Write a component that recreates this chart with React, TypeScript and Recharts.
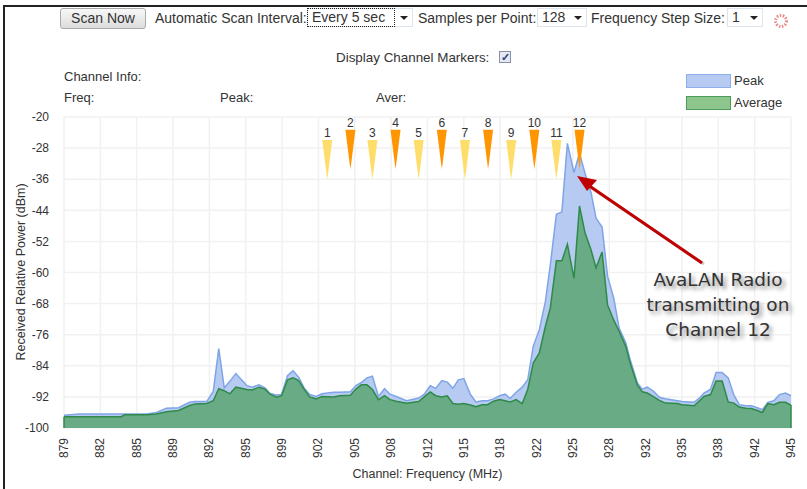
import {
  ComposedChart,
  Area,
  Scatter,
  XAxis,
  YAxis,
  CartesianGrid,
  ReferenceLine,
} from 'recharts';

const freqs = [
  879, 880.4, 884.2, 884.5, 886.5, 887.4, 888.3, 889.4, 890.4, 890.9, 891.95, 892.55, 893.05, 893.55,
  894.05, 894.6, 895.6, 896.1, 896.7, 897.25, 897.7, 898.3, 898.75, 899.3, 899.8, 900.3, 900.8, 901.3,
  901.9, 902.4, 903.5, 904, 905, 905.5, 906, 906.5, 907, 907.55, 908.1, 908.6, 909.15, 910.1, 911.2,
  911.7, 912.25, 912.75, 913.3, 913.8, 914.3, 914.8, 915.3, 915.9, 916.4, 916.95, 917.45, 918, 918.55,
  919.05, 919.5, 920.05, 920.6, 921.1, 921.6, 922.15, 922.7, 923.15, 923.7, 924.2, 924.7, 925.3, 925.8,
  926.3, 926.85, 927.3, 927.85, 928.35, 928.9, 929.4, 930, 930.4, 931.05, 931.5, 931.95, 932.55, 933.05,
  933.6, 934.7, 935.1, 936.2, 936.65, 937.1, 937.7, 938.2, 938.75, 939.3, 939.8, 940.3, 940.9, 941.4,
  941.95, 942.4, 942.9, 943.45, 943.95, 944.5, 945,
];

const peak = [
  -96.7, -96.4, -96.4, -96.4, -96.4, -96, -94.9, -94.8, -93.4, -93.2, -93.2, -90.6, -79.6, -89.7,
  -88, -86, -89.1, -89.5, -88.9, -89.7, -91.1, -91.5, -91.4, -86.5, -85.3, -86.9, -89.7, -91.4,
  -91.9, -91.2, -90.8, -90.8, -90.7, -89.1, -88.3, -87.1, -86.7, -91.9, -89.9, -91.3, -91.9, -93, -92.3,
  -91.3, -89.1, -89.8, -87.8, -88.2, -89.8, -87.6, -87.3, -91.4, -93.3, -93, -93, -92.5, -91.7,
  -91.3, -92.4, -90.8, -89.5, -87.6, -79, -74.7, -67.5, -58, -45, -44.4, -26.8, -34.3, -29.3,
  -34.5, -39.5, -46, -48.3, -61, -66.5, -74.3, -78.1, -82.4, -88.4, -90, -89.5, -90.6, -92.1,
  -92.5, -93, -93.2, -93.4, -92.4, -91, -90, -85.7, -85.7, -87.1, -91.4, -94, -94.3, -94.3,
  -94.8, -95.3, -93.4, -93, -91.4, -91, -91.7,
];

const average = [
  -97.1, -97.1, -97.1, -96.6, -96.6, -96.4, -95.8, -95.5, -94.2, -93.8, -93.7, -93, -89.9, -90.4,
  -91.2, -89.5, -90.1, -90.2, -89.5, -90, -91.3, -92.1, -91.7, -87.6, -87.1, -87.8, -90, -92,
  -92.5, -91.9, -92, -91.7, -91.6, -90, -88.9, -88.9, -90.1, -92.7, -91.7, -92.7, -93.1, -93.6, -93.2,
  -92, -90.7, -91.7, -92, -91.7, -93.7, -93.9, -93.7, -94.1, -94.5, -94, -94, -93.1, -92.7,
  -93, -93.3, -92.7, -93.7, -90.1, -83.3, -80.7, -73.9, -69.1, -57, -57, -52.7, -61.5, -42.9,
  -49.8, -54.2, -58.8, -54.7, -68.4, -72.2, -75.1, -79, -83.3, -88.9, -90.7, -91, -92, -92.9,
  -93.6, -93.7, -94, -94.3, -93.1, -91.9, -91.4, -87.9, -87.9, -93.3, -93.6, -94.6, -94.9, -95,
  -95.5, -96, -93.7, -94, -93.4, -93.4, -94.1,
];

const xTickFreqs = [
  879, 882.3, 885.6, 888.9, 892.2, 895.5, 898.8, 902.1, 905.4, 908.7, 912, 915.3, 918.6, 921.9, 925.2,
  928.5, 931.8, 935.1, 938.4, 941.7, 945,
];
const xTickLabels = [
  '879', '882', '885', '889', '892', '895', '899', '902', '905', '908', '912', '915', '918', '922', '925',
  '928', '932', '935', '938', '942', '945',
];
const yTicks = [-20, -28, -36, -44, -52, -60, -68, -76, -84, -92, -100];

const channelNames = ['1', '2', '3', '4', '5', '6', '7', '8', '9', '10', '11', '12'];
const channelFreqs = [902.9, 905, 907, 909.1, 911.2, 913.3, 915.4, 917.5, 919.6, 921.7, 923.7, 925.8];
const channelTips = [-36.2, -33.6, -36.2, -33.6, -36.2, -33.6, -36.2, -33.6, -36.2, -33.6, -36.2, -33.6];

const rows = freqs.map((freq, i) => ({ freq, peak: peak[i], average: average[i] }));
const channelRows = channelNames.map((name, i) => ({ name, freq: channelFreqs[i], tip: channelTips[i] }));

const FONT = 'Arial, "Liberation Sans", sans-serif';

// Rotated frequency labels under the plot
const XTick = ({ x, y, index }: any) => (
  <text
    x={x + 4}
    y={y + 2}
    transform={`rotate(-90 ${x + 4} ${y + 2})`}
    textAnchor="end"
    fontFamily={FONT}
    fontSize={12}
    fill="#333"
  >
    {xTickLabels[index]}
  </text>
);

// Channel pennant: the point sits on the tip, the flat side is on top
const ChannelMarker = ({ cx, cy, payload }: any) => {
  const even = Number(payload.name) % 2 === 0;
  return (
    <g>
      <polygon
        points={`${cx - 5},${cy - 40} ${cx + 5},${cy - 40} ${cx},${cy}`}
        fill={even ? 'url(#evenMarker)' : 'url(#oddMarker)'}
      />
      <text x={cx} y={cy - 43} textAnchor="middle" fontFamily={FONT} fontSize={12} fill="#333">
        {payload.name}
      </text>
    </g>
  );
};

const label = (x: number, y: number, text: string, size = 14) => (
  <div
    style={{
      position: 'absolute',
      left: x,
      top: y - 9,
      height: 18,
      lineHeight: '18px',
      fontSize: size,
      whiteSpace: 'nowrap',
    }}
  >
    {text}
  </div>
);

const selectBox = (x: number, w: number, text: string) => (
  <div
    style={{
      position: 'absolute',
      left: x,
      top: 8,
      width: w,
      height: 19,
      boxSizing: 'border-box',
      border: '1px solid #dce4ee',
      lineHeight: '17px',
      paddingLeft: 4,
      whiteSpace: 'nowrap',
    }}
  >
    {text}
    <span
      style={{
        position: 'absolute',
        right: 4,
        top: 7,
        width: 0,
        height: 0,
        borderLeft: '4px solid transparent',
        borderRight: '4px solid transparent',
        borderTop: '4px solid #222',
      }}
    />
  </div>
);

export default function App() {
  return (
    <div
      style={{
        position: 'absolute',
        left: 0,
        top: 0,
        width: 807,
        height: 489,
        overflow: 'hidden',
        background: '#fff',
        fontFamily: FONT,
        fontSize: 14,
        color: '#333',
      }}
    >
      <ComposedChart
        width={807}
        height={489}
        data={rows}
        margin={{ top: 117, right: 16, left: 0, bottom: 0 }}
      >
        <defs>
          <linearGradient id="oddMarker" x1="0" y1="0" x2="0" y2="1">
            <stop offset="88%" stopColor="#ffdd6b" />
            <stop offset="100%" stopColor="#ffdd6b" stopOpacity={0.4} />
          </linearGradient>
          <linearGradient id="evenMarker" x1="0" y1="0" x2="0" y2="1">
            <stop offset="88%" stopColor="#ff9500" />
            <stop offset="100%" stopColor="#ff9500" stopOpacity={0.4} />
          </linearGradient>
        </defs>
        <CartesianGrid stroke="#f1f1f1" strokeWidth={1.5} />
        <XAxis
          dataKey="freq"
          type="number"
          domain={[879, 945]}
          ticks={xTickFreqs}
          interval={0}
          height={61}
          tick={<XTick />}
          tickLine={false}
          axisLine={false}
          label={{
            value: 'Channel: Frequency (MHz)',
            position: 'insideBottom',
            offset: 11,
            fontFamily: FONT,
            fontSize: 12.5,
            fill: '#333',
          }}
        />
        <YAxis
          type="number"
          domain={[-100, -20]}
          ticks={yTicks}
          interval={0}
          width={64}
          tickLine={false}
          axisLine={false}
          tickMargin={9}
          tick={{ fontFamily: FONT, fontSize: 12, fill: '#333' }}
          label={{
            value: 'Received Relative Power (dBm)',
            angle: -90,
            position: 'insideLeft',
            offset: 21,
            dy: 88,
            fontFamily: FONT,
            fontSize: 12.5,
            fill: '#333',
          }}
        />
        <Area
          type="linear"
          dataKey="peak"
          baseValue={-100}
          stroke="#7fa5e6"
          strokeWidth={1.5}
          fill="#b6caf2"
          fillOpacity={1}
          isAnimationActive={false}
        />
        <Area
          type="linear"
          dataKey="average"
          baseValue={-100}
          stroke="#2f8a4a"
          strokeWidth={1.5}
          fill="#69ab85"
          fillOpacity={1}
          isAnimationActive={false}
        />
        <ReferenceLine segment={[{ x: 879, y: -100 }, { x: 879, y: average[0] }]} stroke="#2f8a4a" strokeWidth={1.5} />
        <ReferenceLine
          segment={[{ x: 945, y: -100 }, { x: 945, y: average[average.length - 1] }]}
          stroke="#2f8a4a"
          strokeWidth={1.5}
        />
        <Scatter data={channelRows} dataKey="tip" shape={<ChannelMarker />} isAnimationActive={false} />
      </ComposedChart>

      {/* page frame */}
      <div style={{ position: 'absolute', left: 3, top: 5, width: 804, height: 2, background: '#222' }} />
      <div style={{ position: 'absolute', left: 3, top: 5, width: 2, height: 484, background: '#222' }} />

      {/* scan controls */}
      <div
        style={{
          position: 'absolute',
          left: 60,
          top: 8,
          width: 86,
          height: 21,
          boxSizing: 'border-box',
          border: '1px solid #aaa',
          borderRadius: 3,
          background: 'linear-gradient(#f8f8f8, #dcdcdc)',
          textAlign: 'center',
          lineHeight: '19px',
        }}
      >
        Scan Now
      </div>
      {label(155, 18, 'Automatic Scan Interval:')}
      {selectBox(307, 106, 'Every 5 sec')}
      <div
        style={{
          position: 'absolute',
          left: 307,
          top: 8,
          width: 88,
          height: 19,
          boxSizing: 'border-box',
          border: '1px dotted #222',
        }}
      />
      {label(418, 18, 'Samples per Point:')}
      {selectBox(537, 50, '128')}
      {label(591, 18, 'Frequency Step Size:')}
      {selectBox(727, 36, '1')}

      {/* marker toggle and readouts */}
      {label(336, 58, 'Display Channel Markers:', 13.4)}
      <div
        style={{
          position: 'absolute',
          left: 499,
          top: 51,
          width: 12,
          height: 12,
          boxSizing: 'border-box',
          border: '1px solid #8a8fa8',
          background: '#e6e8f2',
          color: '#2f3f7a',
          fontSize: 11,
          fontWeight: 700,
          lineHeight: '10px',
          textAlign: 'center',
        }}
      >
        ✓
      </div>
      {label(64, 77, 'Channel Info:', 13)}
      {label(64, 98, 'Freq:', 13)}
      {label(220, 98, 'Peak:', 13)}
      {label(376, 98, 'Aver:', 13)}

      {/* legend */}
      <div
        style={{
          position: 'absolute',
          left: 686,
          top: 74,
          width: 45,
          height: 14,
          boxSizing: 'border-box',
          border: '1px solid #8eb0ea',
          background: '#b6caf2',
        }}
      />
      {label(734, 81, 'Peak', 13)}
      <div
        style={{
          position: 'absolute',
          left: 686,
          top: 96,
          width: 45,
          height: 14,
          boxSizing: 'border-box',
          border: '1px solid #4c9a5c',
          background: '#8cc68c',
        }}
      />
      {label(734, 103, 'Average', 13)}

      {/* busy spinner, arrow and callout */}
      <svg width={807} height={489} style={{ position: 'absolute', left: 0, top: 0, pointerEvents: 'none' }}>
        <circle cx={781} cy={21} r={5.5} fill="none" stroke="#e88" strokeWidth={3} strokeDasharray="1.5 1.5" />
        <line x1={704} y1={264} x2={590} y2={187} stroke="#999" strokeOpacity={0.5} strokeWidth={3} />
        <line x1={702} y1={263} x2={588} y2={185} stroke="#c00000" strokeWidth={3} />
        <polygon points="577,176 597,180 587,191" fill="#c00000" />
      </svg>
      <div
        style={{
          position: 'absolute',
          left: 618,
          top: 267,
          width: 200,
          textAlign: 'center',
          fontFamily: '"DejaVu Sans", sans-serif',
          fontSize: 18.5,
          lineHeight: '25px',
          color: '#333',
          textShadow: '3px 3px 4px #888',
        }}
      >
        AvaLAN Radio
        <br />
        transmitting on
        <br />
        Channel 12
      </div>
    </div>
  );
}
